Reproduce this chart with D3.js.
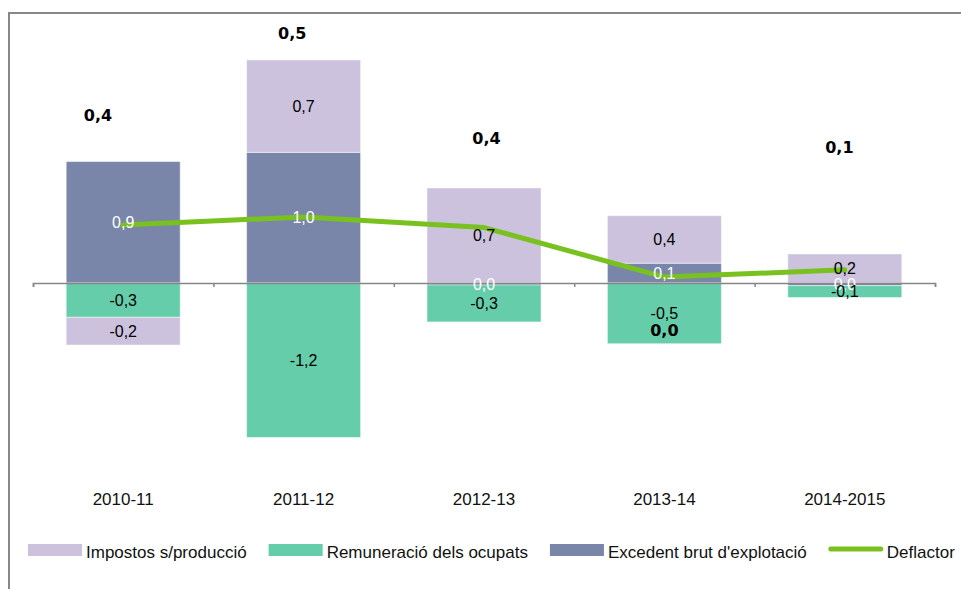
<!DOCTYPE html>
<html>
<head>
<meta charset="utf-8">
<script src="https://cdn.jsdelivr.net/npm/d3@7"></script>
<style>
  html, body { margin: 0; padding: 0; background: #fff; overflow: hidden; }
  svg { display: block; font-family: "Liberation Sans", Arial, sans-serif; }
</style>
</head>
<body>
<script>
// categories and series (percentage points)
var categories = [ "2010-11", "2011-12", "2012-13", "2013-14", "2014-2015" ];
var excedent = [ 0.92, 0.99, -0.015, 0.15, -0.02 ];
var remuneracio = [ -0.26, -1.17, -0.28, -0.46, -0.09 ];
var impostos = [ -0.21, 0.70, 0.72, 0.36, 0.22 ];
var deflactor = [ 0.44, 0.50, 0.42, 0.045, 0.10 ];
// where the deflator value labels were dropped (value units / band fraction)
var deflactorLabelAt = [ 1.27, 1.89, 1.10, -0.36, 1.03 ];
var deflactorLabelShift = [ -0.14, -0.063, 0.014, 0, -0.03 ];

var seriesNames = {
  imp: "Impostos s/producció",
  rem: "Remuneració dels ocupats",
  exc: "Excedent brut d'explotació",
  def: "Deflactor"
};
var colors = { imp: "#ccc2de", rem: "#66cdaa", exc: "#7986a9", def: "#78c11f" };
var labelColors = { imp: "#000", rem: "#000", exc: "#fff" };

var width = 961, height = 589;
var locale = d3.formatLocale( { decimal: ",", thousands: ".", grouping: [ 3 ], currency: [ "", "" ], minus: "-" } );
var fmt = locale.format( ".1f" );

var rows = categories.map( function( c, i ) {
  return { cat: c, exc: excedent[ i ], rem: remuneracio[ i ], imp: impostos[ i ] };
} );
var keys = [ "exc", "rem", "imp" ];
var stacked = d3.stack().keys( keys ).offset( d3.stackOffsetDiverging )( rows );

var svg = d3.select( "body" ).append( "svg" )
  .attr( "width", width ).attr( "height", height );

// chart frame (extends past the window)
svg.append( "rect" )
  .attr( "x", 9 ).attr( "y", 13 )
  .attr( "width", 1000 ).attr( "height", 700 )
  .attr( "fill", "none" ).attr( "stroke", "#878787" ).attr( "stroke-width", 2 );

var x = d3.scaleBand().domain( categories ).range( [ 33, 935 ] ).padding( 0 );
var xEdge = d3.scaleLinear().domain( [ 0, categories.length ] ).range( [ 33, 935 ] );
var y = d3.scaleLinear().domain( [ -1.5, 2 ] ).range( [ 481, 19 ] );
var barW = x.bandwidth() * 0.632;
var barX = function( c ) { return x( c ) + ( x.bandwidth() - barW ) / 2; };

var layers = svg.append( "g" ).attr( "class", "bars" )
  .selectAll( "g" ).data( stacked ).join( "g" )
  .attr( "fill", function( d ) { return colors[ d.key ]; } );

layers.selectAll( "rect" ).data( function( d ) { return d; } ).join( "rect" )
  .attr( "x", function( d ) { return barX( d.data.cat ); } )
  .attr( "width", barW )
  .attr( "y", function( d ) { return y( Math.max( d[ 0 ], d[ 1 ] ) ); } )
  .attr( "height", function( d ) { return Math.abs( y( d[ 0 ] ) - y( d[ 1 ] ) ); } )
  .attr( "stroke", "#fff" ).attr( "stroke-opacity", 0.5 ).attr( "stroke-width", 1 );

// category axis with ticks at band edges
var axis = d3.axisBottom( xEdge )
  .tickValues( d3.range( categories.length + 1 ) )
  .tickFormat( "" ).tickSizeInner( 4 ).tickSizeOuter( 4 );
var axisG = svg.append( "g" ).attr( "transform", "translate(0," + y( 0 ) + ")" ).call( axis );
axisG.select( ".domain" ).attr( "stroke", "#868686" ).attr( "stroke-width", 1.5 );
axisG.selectAll( ".tick line" ).attr( "stroke", "#868686" ).attr( "stroke-width", 1.5 );

svg.append( "g" ).selectAll( "text" ).data( categories ).join( "text" )
  .attr( "x", function( c ) { return x( c ) + x.bandwidth() / 2; } )
  .attr( "y", 505 )
  .attr( "text-anchor", "middle" )
  .attr( "font-size", 17 ).attr( "fill", "#111" )
  .text( function( c ) { return c; } );

// deflator line
var line = d3.line()
  .x( function( d, i ) { return x( categories[ i ] ) + x.bandwidth() / 2; } )
  .y( function( d ) { return y( d ); } );
svg.append( "path" ).datum( deflactor )
  .attr( "d", line )
  .attr( "fill", "none" ).attr( "stroke", colors.def )
  .attr( "stroke-width", 5 ).attr( "stroke-linejoin", "round" ).attr( "stroke-linecap", "round" );

// segment labels
var labelG = svg.append( "g" ).attr( "font-size", 16 ).attr( "text-anchor", "middle" );
stacked.forEach( function( layer ) {
  labelG.append( "g" ).selectAll( "text" ).data( layer ).join( "text" )
    .attr( "x", function( d ) { return x( d.data.cat ) + x.bandwidth() / 2; } )
    .attr( "y", function( d ) { return ( y( d[ 0 ] ) + y( d[ 1 ] ) ) / 2; } )
    .attr( "dy", "0.36em" )
    .attr( "fill", labelColors[ layer.key ] )
    .text( function( d ) { return fmt( d.data[ layer.key ] ); } );
} );

// deflator value labels
svg.append( "g" ).selectAll( "text" ).data( deflactor ).join( "text" )
  .attr( "x", function( d, i ) {
    return x( categories[ i ] ) + x.bandwidth() * ( 0.5 + deflactorLabelShift[ i ] );
  } )
  .attr( "y", function( d, i ) { return y( deflactorLabelAt[ i ] ); } )
  .attr( "dy", "0.36em" )
  .attr( "text-anchor", "middle" )
  .attr( "font-family", "'DejaVu Sans', Verdana, sans-serif" )
  .attr( "font-weight", "bold" ).attr( "font-size", 16 ).attr( "fill", "#000" )
  .text( function( d ) { return fmt( d ); } );

// legend
var legend = svg.append( "g" ).attr( "font-size", 17 ).attr( "fill", "#111" );
var lx = 28;
[ "imp", "rem", "exc", "def" ].forEach( function( k ) {
  if( k === "def" ) {
    legend.append( "line" )
      .attr( "x1", lx + 2 ).attr( "x2", lx + 52 ).attr( "y1", 549 ).attr( "y2", 549 )
      .attr( "stroke", colors.def ).attr( "stroke-width", 5 ).attr( "stroke-linecap", "round" );
  } else {
    legend.append( "rect" )
      .attr( "x", lx ).attr( "y", 544 ).attr( "width", 54 ).attr( "height", 12 )
      .attr( "fill", colors[ k ] );
  }
  var t = legend.append( "text" )
    .attr( "x", lx + 58 ).attr( "y", 558 )
    .text( seriesNames[ k ] );
  lx += 58 + t.node().getComputedTextLength() + 22;
} );
</script>
</body>
</html>
